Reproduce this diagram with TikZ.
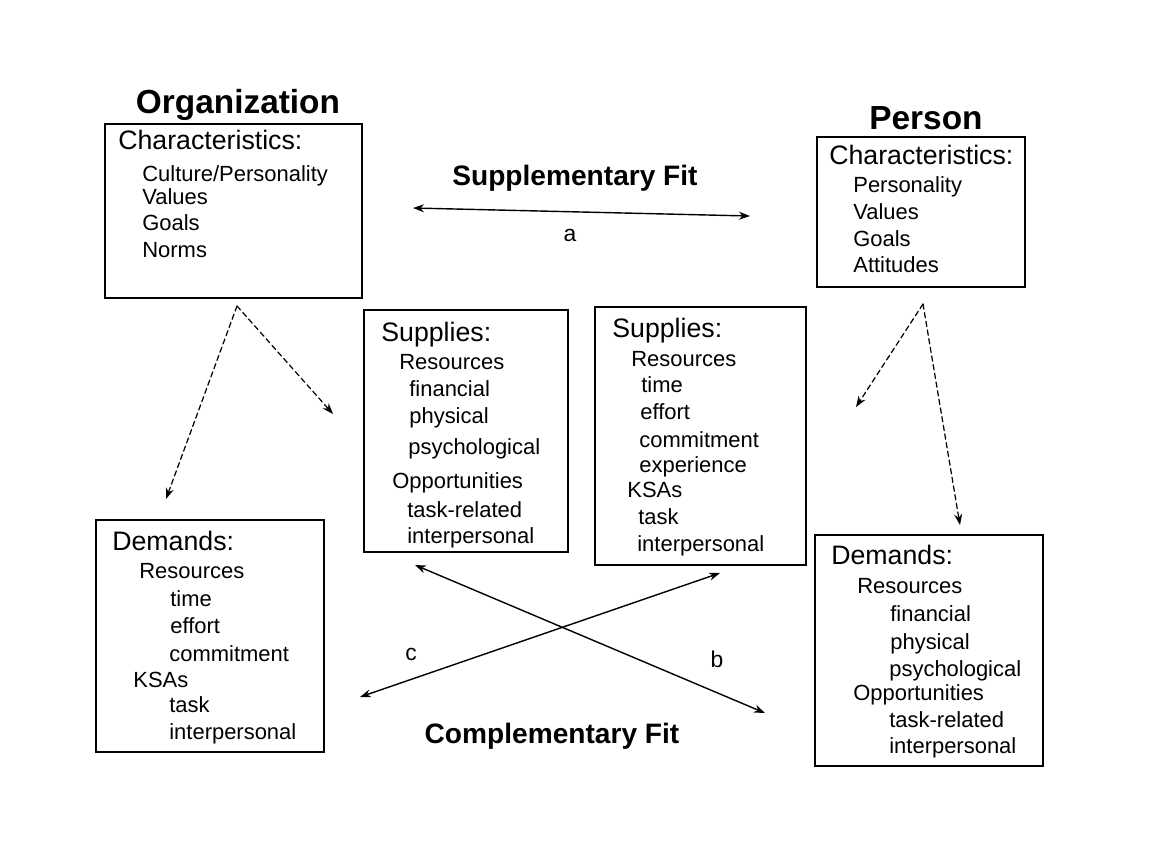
\documentclass[tikz,border=0pt]{standalone}
\usepackage{fontspec}
\setmainfont{Liberation Sans}
\usetikzlibrary{arrows.meta,fit}

\tikzset{
  box/.style={draw,line width=1.3pt,inner sep=0pt},
  head/.style={anchor=base west,inner sep=0pt,font=\fontsize{15.2}{18}\selectfont},
  item/.style={anchor=base west,inner sep=0pt,font=\fontsize{12.5}{15}\selectfont},
  title/.style={anchor=base,inner sep=0pt,font=\bfseries\fontsize{19}{23}\selectfont},
  fitlabel/.style={anchor=base,inner sep=0pt,font=\bfseries\fontsize{16}{19}\selectfont},
  letter/.style={anchor=base,inner sep=0pt,font=\fontsize{13}{15}\selectfont},
  fitarrow/.style={<->,line width=0.8pt},
  split/.style={->,line width=0.7pt,dash pattern=on 3pt off 2pt}
}

\begin{document}
\begin{tikzpicture}[x=0.02cm,y=-0.02cm,>={Stealth[length=2.2mm,width=1.6mm]},line cap=round]
\useasboundingbox (0,0) rectangle (1167,850);
% titles
\node[title] (orgtitle) at (238,113) {Organization};
\node[title] (pertitle) at (926,129) {Person};
\node[fitlabel] (supfit) at (575,185) {Supplementary Fit};
\node[fitlabel] (comfit) at (552,743) {Complementary Fit};
% organization characteristics
\node[box,fit={(105,124) (362,298)}] (orgchar) {};
\node[head] (oc0) at (118,149) {Characteristics:};
\node[item] (oc1) at (142,181) {Culture/Personality};
\node[item] (oc2) at (142,204) {Values};
\node[item] (oc3) at (142,230) {Goals};
\node[item] (oc4) at (142,257) {Norms};
% person characteristics
\node[box,fit={(817,137) (1025,287)}] (perchar) {};
\node[head] (pc0) at (829,164) {Characteristics:};
\node[item] (pc1) at (853,192) {Personality};
\node[item] (pc2) at (853,219) {Values};
\node[item] (pc3) at (853,246) {Goals};
\node[item] (pc4) at (853,272) {Attitudes};
% organization supplies
\node[box,fit={(364,310) (568,552)}] (orgsup) {};
\node[head] (os0) at (381,341) {Supplies:};
\node[item] (os1) at (399,369) {Resources};
\node[item] (os2) at (409,396) {financial};
\node[item] (os3) at (409,423) {physical};
\node[item] (os4) at (408,454) {psychological};
\node[item] (os5) at (392,488) {Opportunities};
\node[item] (os6) at (407,517) {task-related};
\node[item] (os7) at (407,543) {interpersonal};
% person supplies
\node[box,fit={(595,307) (806,565)}] (persup) {};
\node[head] (ps0) at (612,337) {Supplies:};
\node[item] (ps1) at (631,366) {Resources};
\node[item] (ps2) at (641,392) {time};
\node[item] (ps3) at (640,419) {effort};
\node[item] (ps4) at (639,447) {commitment};
\node[item] (ps5) at (639,472) {experience};
\node[item] (ps6) at (627,497) {KSAs};
\node[item] (ps7) at (638,524) {task};
\node[item] (ps8) at (637,551) {interpersonal};
% organization demands
\node[box,fit={(96,520) (324,752)}] (orgdem) {};
\node[head] (od0) at (112,550) {Demands:};
\node[item] (od1) at (139,578) {Resources};
\node[item] (od2) at (170,606) {time};
\node[item] (od3) at (170,633) {effort};
\node[item] (od4) at (169,661) {commitment};
\node[item] (od5) at (133,687) {KSAs};
\node[item] (od6) at (169,712) {task};
\node[item] (od7) at (169,739) {interpersonal};
% person demands
\node[box,fit={(815,535) (1043,766)}] (perdem) {};
\node[head] (pd0) at (831,564) {Demands:};
\node[item] (pd1) at (857,593) {Resources};
\node[item] (pd2) at (890,621) {financial};
\node[item] (pd3) at (890,649) {physical};
\node[item] (pd4) at (889,676) {psychological};
\node[item] (pd5) at (853,700) {Opportunities};
\node[item] (pd6) at (889,727) {task-related};
\node[item] (pd7) at (889,753) {interpersonal};
% arrow ends
\coordinate (aorg) at (413,208);
\coordinate (aper) at (750,216);
\coordinate (borg) at (415,565);
\coordinate (bper) at (765,713);
\coordinate (corg) at (360,697);
\coordinate (cper) at (720,573);
\coordinate (orgsplit) at (237,306);
\coordinate (orgtodem) at (166,499);
\coordinate (orgtosup) at (333,414);
\coordinate (persplit) at (923,304);
\coordinate (pertosup) at (856,407);
\coordinate (pertodem) at (960,525);
% fit arrows
\draw[fitarrow] (aorg) -- (aper);
\draw[fitarrow] (borg) -- (bper);
\draw[fitarrow] (corg) -- (cper);
\node[letter] (la) at (570,241) {a};
\node[letter] (lb) at (717,667) {b};
\node[letter] (lc) at (411,660) {c};
% dashed splits
\draw[split] (orgsplit) -- (orgtodem);
\draw[split] (orgsplit) -- (orgtosup);
\draw[split] (persplit) -- (pertosup);
\draw[split] (persplit) -- (pertodem);
\end{tikzpicture}
\end{document}
